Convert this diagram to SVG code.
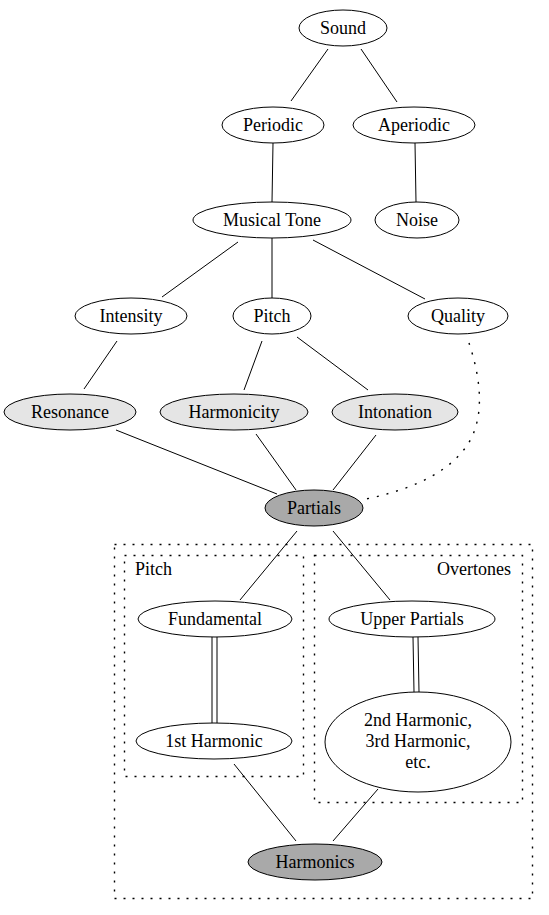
<svg xmlns="http://www.w3.org/2000/svg" width="549" height="915" viewBox="0 0 549 915" font-family="'Liberation Serif','Times New Roman',serif">
<style>
text{font-family:"Liberation Serif","Times New Roman",serif;font-size:18px;fill:#000;text-anchor:middle}
ellipse{stroke:#000;stroke-width:1;fill:#fff}
.lg{fill:#e5e5e5}
.dg{fill:#a9a9a9}
.e{stroke:#000;stroke-width:1;fill:none}
.dot{stroke-dasharray:2,8;stroke-width:1.4}
.cl{fill:none;stroke:#000;stroke-width:1.4;stroke-dasharray:2,7}
</style>
<rect width="549" height="915" fill="#fff"/>
<g id="clusters">
<rect class="cl" x="114.5" y="544.5" width="418" height="354"/>
<rect class="cl" x="124.5" y="555.5" width="179" height="221"/>
<text x="135" y="575" style="text-anchor:start">Pitch</text>
<rect class="cl" x="314.5" y="555.5" width="208" height="247"/>
<text x="511" y="575" style="text-anchor:end">Overtones</text>
</g>
<g id="edges">
<path class="e" d="M328,49L291,101"/>
<path class="e" d="M361,49L397,102"/>
<path class="e" d="M273,143L272,202"/>
<path class="e" d="M415,143L416,202"/>
<path class="e" d="M238,242L162,297"/>
<path class="e" d="M272,238L272,298"/>
<path class="e" d="M313,240L425,299"/>
<path class="e" d="M117,341L84,389"/>
<path class="e" d="M262,341L244,390"/>
<path class="e" d="M297,337L368,390"/>
<path class="e dot" d="M469,343C478,370 490,420 462,452C440,478 402,492 361,500"/>
<path class="e" d="M116,430L277,494"/>
<path class="e" d="M256,434L296,490"/>
<path class="e" d="M376,435L333,490"/>
<path class="e" d="M297,531L240,600"/>
<path class="e" d="M333,531L390,600"/>
<path class="e" d="M212,637L212,723M217,637L217,723"/>
<path class="e" d="M413,637L414,692M418,637L419,692"/>
<path class="e" d="M234,764L296,841"/>
<path class="e" d="M378,789L333,841"/>
</g>
<g id="sound"><ellipse cx="343" cy="28" rx="44" ry="18"/><text x="343" y="34">Sound</text></g>
<g id="periodic"><ellipse cx="273" cy="125" rx="51" ry="18"/><text x="273" y="131">Periodic</text></g>
<g id="aperiodic"><ellipse cx="414" cy="125" rx="61" ry="18"/><text x="414" y="131">Aperiodic</text></g>
<g id="musical_tone"><ellipse cx="272" cy="220" rx="79" ry="18"/><text x="272" y="226">Musical Tone</text></g>
<g id="noise"><ellipse cx="417" cy="220" rx="42" ry="18"/><text x="417" y="226">Noise</text></g>
<g id="intensity"><ellipse cx="131" cy="316" rx="56" ry="18"/><text x="131" y="322">Intensity</text></g>
<g id="pitch"><ellipse cx="272" cy="316" rx="39" ry="18"/><text x="272" y="322">Pitch</text></g>
<g id="quality"><ellipse cx="458" cy="316" rx="50" ry="18"/><text x="458" y="322">Quality</text></g>
<g id="resonance"><ellipse class="lg" cx="70" cy="412" rx="66" ry="18"/><text x="70" y="418">Resonance</text></g>
<g id="harmonicity"><ellipse class="lg" cx="234" cy="412" rx="74" ry="18"/><text x="234" y="418">Harmonicity</text></g>
<g id="intonation"><ellipse class="lg" cx="395" cy="412" rx="63" ry="18"/><text x="395" y="418">Intonation</text></g>
<g id="partials"><ellipse class="dg" cx="314" cy="508" rx="49" ry="18"/><text x="314" y="514">Partials</text></g>
<g id="fundamental"><ellipse cx="215" cy="619" rx="77" ry="18"/><text x="215" y="625">Fundamental</text></g>
<g id="first_harmonic"><ellipse cx="214" cy="741" rx="78" ry="18"/><text x="214" y="747">1st Harmonic</text></g>
<g id="upper_partials"><ellipse cx="412" cy="619" rx="83" ry="18"/><text x="412" y="625">Upper Partials</text></g>
<g id="higher_harmonics"><ellipse cx="418" cy="742" rx="93" ry="50"/><text x="418" y="726">2nd Harmonic,</text><text x="418" y="747">3rd Harmonic,</text><text x="418" y="768">etc.</text></g>
<g id="harmonics"><ellipse class="dg" cx="315" cy="862" rx="67" ry="18"/><text x="315" y="868">Harmonics</text></g>
</svg>
